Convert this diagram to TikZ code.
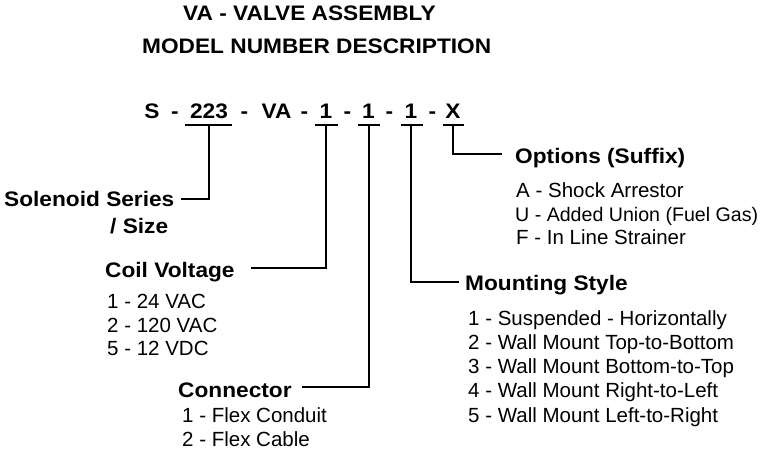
\documentclass[tikz,border=0pt]{standalone}
\usepackage{fontspec}
\setmainfont{Liberation Sans}
\newfontfamily\hdfont[FakeStretch=1.08]{Liberation Sans}
\begin{document}
\begin{tikzpicture}[x=1pt,y=-1pt,
  hd/.style={font=\hdfont\bfseries\fontsize{21}{24}\selectfont, anchor=base west, inner sep=0pt},
  seg/.style={font=\hdfont\bfseries\fontsize{21}{24}\selectfont, anchor=base, inner sep=0pt},
  item/.style={font=\fontsize{20.5}{24}\selectfont, anchor=base west, inner sep=0pt},
  ln/.style={line width=2pt, line join=miter}]
\useasboundingbox (0,0) rectangle (767,451);
\fill[white] (0,0) rectangle (767,451);

% title
\node[hd] (t1) at (183,20) {VA - VALVE ASSEMBLY};
\node[hd] (t2) at (142,53) {MODEL NUMBER DESCRIPTION};

% model number
\node[seg] (sS)  at (152,118) {S};
\node[seg] (d1)  at (175,118) {-};
\node[seg] (s223) at (209,118) {223};
\node[seg] (d2)  at (244.5,118) {-};
\node[seg] (sVA) at (276.5,118) {VA};
\node[seg] (d3)  at (304.5,118) {-};
\node[seg] (sA)  at (326,118) {1};
\node[seg] (d4)  at (347.5,118) {-};
\node[seg] (sB)  at (368.5,118) {1};
\node[seg] (d5)  at (389.5,118) {-};
\node[seg] (sC)  at (411,118) {1};
\node[seg] (d6)  at (432.5,118) {-};
\node[seg] (sX)  at (453,118) {X};

% underline coordinates
\coordinate (u1a) at (185,125); \coordinate (u1b) at (232,125); \coordinate (u1m) at (209,125);
\coordinate (u2a) at (315,125); \coordinate (u2b) at (338,125); \coordinate (u2m) at (326,125);
\coordinate (u3a) at (358,125); \coordinate (u3b) at (380,125); \coordinate (u3m) at (369,125);
\coordinate (u4a) at (401,125); \coordinate (u4b) at (423,125); \coordinate (u4m) at (411,125);
\coordinate (u5a) at (443,125); \coordinate (u5b) at (464,125); \coordinate (u5m) at (453,125);

% headers
\node[hd] (sol) at (4,206) {Solenoid Series};
\node[hd] (size) at (110,233) {/ Size};
\node[hd] (coil) at (105,277) {Coil Voltage};
\node[hd] (conn) at (178,397) {Connector};
\node[hd] (mount) at (465,290) {Mounting Style};
\node[hd] (opt) at (515,163) {Options (Suffix)};

% connector free ends
\coordinate (e1) at (181,199);
\coordinate (e2) at (251,268);
\coordinate (e3) at (302,387);
\coordinate (e4) at (459,282);
\coordinate (e5) at (502,154);

% lines
\draw[ln] (u1a) -- (u1b);
\draw[ln] (u2a) -- (u2b);
\draw[ln] (u3a) -- (u3b);
\draw[ln] (u4a) -- (u4b);
\draw[ln] (u5a) -- (u5b);
\draw[ln] (u1m) |- (e1);
\draw[ln] (u2m) |- (e2);
\draw[ln] (u3m) |- (e3);
\draw[ln] (u4m) |- (e4);
\draw[ln] (u5m) |- (e5);

% items
\node[item] (c1) at (107,308) {1 - 24 VAC};
\node[item] (c2) at (107,332) {2 - 120 VAC};
\node[item] (c3) at (107,355) {5 - 12 VDC};

\node[item] (k1) at (182,422) {1 - Flex Conduit};
\node[item] (k2) at (182,446) {2 - Flex Cable};

\node[item] (m1) at (468,325) {1 - Suspended - Horizontally};
\node[item] (m2) at (468,349) {2 - Wall Mount Top-to-Bottom};
\node[item] (m3) at (468,373) {3 - Wall Mount Bottom-to-Top};
\node[item] (m4) at (468,397) {4 - Wall Mount Right-to-Left};
\node[item] (m5) at (468,422) {5 - Wall Mount Left-to-Right};

\node[item] (o1) at (516,197) {A - Shock Arrestor};
\node[item, font=\fontsize{19.6}{24}\selectfont] (o2) at (515,221) {U - Added Union (Fuel Gas)};
\node[item] (o3) at (516,244) {F - In Line Strainer};
\end{tikzpicture}
\end{document}
